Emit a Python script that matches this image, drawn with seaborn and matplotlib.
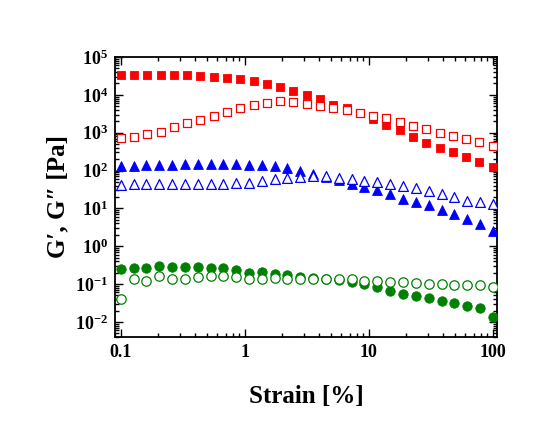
import matplotlib
matplotlib.use("Agg")
import math
import matplotlib.pyplot as plt
import seaborn as sns
import pandas as pd
from matplotlib.ticker import FuncFormatter, LogLocator, NullFormatter

# strain values [%]
strain_30 = [0.1, 0.127, 0.161, 0.204, 0.259, 0.329, 0.418, 0.530, 0.672, 0.853,
             1.08, 1.37, 1.74, 2.21, 2.81, 3.56, 4.52, 5.74, 7.28, 9.24,
             11.7, 14.9, 18.9, 23.9, 30.4, 38.6, 48.9, 62.1, 78.8, 100]
strain_29 = [0.1, 0.128, 0.164, 0.210, 0.268, 0.343, 0.439, 0.562, 0.720, 0.921,
             1.18, 1.51, 1.93, 2.47, 3.16, 4.05, 5.18, 6.63, 8.48, 10.9,
             13.9, 17.8, 22.8, 29.1, 37.3, 47.7, 61.1, 78.1, 100]

# red squares
red_Gp = [34000, 34000, 34000, 33800, 33500, 33000, 31800, 29900, 27600, 26000,
          23000, 19500, 16000, 12500, 9800, 7900, 5500, 4400, 3250, 2250,
          1600, 1180, 790, 550, 400, 300, 228, 171, 122]
red_Gpp = [740, 760, 930, 1070, 1390, 1850, 2180, 2780, 3550, 4400,
           5400, 6250, 6700, 6500, 5660, 5100, 4600, 3950, 3350, 2800,
           2380, 1960, 1540, 1230, 1000, 820, 684, 559, 454]

# blue triangles
blue_Gp = [130, 135, 138, 140, 142, 145, 145, 145, 145, 145,
           143, 138, 130, 115, 100, 80, 66, 55, 45, 36,
           30, 24, 18, 15, 12, 8.8, 7.1, 5.2, 3.8, 2.5]
blue_Gpp = [42, 44, 44, 44, 44, 44, 44, 44, 45, 47,
            48, 52, 58, 64, 68, 72, 70, 64, 59, 54,
            49, 45, 40, 35, 29, 24, 20, 16, 14.5, 12.8]

# green circles
green_Gp = [0.25, 0.27, 0.26, 0.30, 0.285, 0.285, 0.29, 0.27, 0.27, 0.23,
            0.20, 0.21, 0.19, 0.17, 0.155, 0.145, 0.14, 0.13, 0.115, 0.098,
            0.084, 0.065, 0.056, 0.049, 0.042, 0.035, 0.031, 0.0265, 0.0234, 0.0135]
green_Gpp = [0.040, 0.14, 0.12, 0.165, 0.135, 0.14, 0.155, 0.16, 0.16, 0.155,
             0.14, 0.14, 0.148, 0.135, 0.135, 0.14, 0.14, 0.14, 0.135, 0.122,
             0.119, 0.114, 0.113, 0.107, 0.103, 0.099, 0.097, 0.094, 0.093, 0.086]

series = [
    (strain_29, red_Gp, "s", "#ff0000", True, 40),
    (strain_29, red_Gpp, "s", "#ff0000", False, 40),
    (strain_30, blue_Gp, "^", "#0000ff", True, 50),
    (strain_30, blue_Gpp, "^", "#0000ff", False, 50),
    (strain_30, green_Gp, "o", "#008000", True, 46),
    (strain_30, green_Gpp, "o", "#008000", False, 46),
]

sns.set_style("ticks")
plt.rcParams["font.family"] = ["Liberation Serif", "DejaVu Serif"]
plt.rcParams["font.weight"] = "bold"
plt.rcParams["mathtext.fontset"] = "custom"
plt.rcParams["mathtext.rm"] = "Liberation Serif:bold"
plt.rcParams["mathtext.it"] = "Liberation Serif:bold"
plt.rcParams["mathtext.bf"] = "Liberation Serif:bold"
plt.rcParams["mathtext.default"] = "rm"
for key in ["text.color", "axes.labelcolor", "xtick.color", "ytick.color", "axes.edgecolor"]:
    plt.rcParams[key] = "black"

fig = plt.figure(figsize=(5.54, 4.33), dpi=100)
ax = fig.add_axes([0.2076, 0.2217, 0.6894, 0.6467])

for xs, ys, mk, col, filled, size in series:
    df = pd.DataFrame({"strain": xs, "G": ys})
    if filled:
        sns.scatterplot(data=df, x="strain", y="G", ax=ax, marker=mk, s=size,
                        color=col, edgecolor=col, linewidth=0.6, zorder=3)
    else:
        sns.scatterplot(data=df, x="strain", y="G", ax=ax, marker=mk, s=size,
                        color=col, facecolor="white", edgecolor=col,
                        linewidth=0.9, zorder=4)

ax.set_xscale("log")
ax.set_yscale("log")
ax.set_xlim(0.09, 108)
ax.set_ylim(0.004, 1e5)

ax.set_xticks([0.1, 1, 10, 100])
ax.set_xticklabels(["0.1", "1", "10", "100"])
ax.yaxis.set_major_locator(LogLocator(base=10, numticks=20))
ax.yaxis.set_major_formatter(FuncFormatter(lambda v, p: r"$10^{%d}$" % round(math.log10(v))))
ax.xaxis.set_minor_locator(LogLocator(base=10, subs=range(2, 10), numticks=20))
ax.yaxis.set_minor_locator(LogLocator(base=10, subs=range(2, 10), numticks=20))
ax.xaxis.set_minor_formatter(NullFormatter())
ax.yaxis.set_minor_formatter(NullFormatter())

ax.tick_params(which="both", direction="in", top=True, right=True, width=1.0, color="black")
ax.tick_params(which="major", length=6, labelsize=13, pad=5)
ax.tick_params(which="minor", length=3)
for sp in ax.spines.values():
    sp.set_linewidth(1.3)

ax.set_xlabel("Strain [%]", fontsize=18, fontweight="bold", labelpad=17)
ax.set_ylabel("G\u2032, G\u2033 [Pa]", fontsize=18, fontweight="bold", labelpad=4)

fig.savefig("out.png", dpi=100)
